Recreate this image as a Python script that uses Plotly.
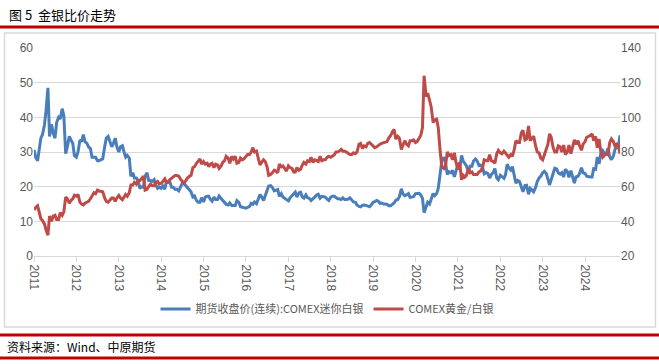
import pandas as pd
import plotly.graph_objects as go

# Semi-monthly readings (1st and 15th of each month), Jan 2011 - Oct 2024, plus last point
silver = [
    # 2011
    30.6, 28.5, 27.5, 30.8, 34.0, 35.0, 37.8, 42.0, 48.5, 34.5, 38.0, 35.5,
    34.0, 38.5, 40.0, 39.5, 42.5, 40.5, 29.5, 31.5, 34.5, 33.5, 32.5, 29.0,
    # 2012
    28.5, 30.0, 33.5, 33.0, 35.0, 33.0, 32.5, 31.5, 31.0, 28.5, 28.5, 28.5,
    27.5, 27.5, 27.8, 28.0, 31.5, 34.0, 34.5, 33.0, 31.5, 32.5, 34.0, 31.5,
    # 2013
    30.0, 31.5, 31.8, 30.0, 28.5, 29.0, 28.2, 23.0, 24.0, 22.5, 22.5, 21.8,
    19.5, 20.0, 19.8, 23.0, 24.0, 21.8, 21.8, 21.5, 22.0, 20.5, 19.5, 19.8,
    # 2014
    19.5, 20.2, 19.3, 21.5, 21.3, 21.5, 19.8, 19.8, 19.2, 19.3, 18.8, 19.8,
    21.0, 21.0, 20.4, 19.7, 19.3, 18.5, 17.0, 17.3, 16.0, 15.5, 15.5, 16.8,
    # 2015
    15.6, 17.0, 17.2, 17.2, 16.3, 15.8, 17.0, 16.3, 16.3, 17.3, 16.6, 16.0,
    15.6, 14.9, 14.7, 15.3, 14.6, 14.6, 14.6, 16.0, 15.5, 14.2, 14.1, 14.0,
    # 2016
    13.8, 14.0, 14.3, 15.2, 14.9, 15.6, 15.1, 16.3, 17.7, 17.1, 16.0, 17.4,
    18.7, 20.2, 20.3, 19.8, 18.8, 19.0, 19.2, 17.2, 18.0, 17.0, 16.6, 16.5,
    # 2017
    15.9, 16.8, 17.5, 18.0, 18.4, 17.0, 18.2, 18.4, 17.0, 16.7, 17.6, 16.8,
    16.6, 16.0, 16.7, 17.0, 17.6, 17.8, 16.7, 17.2, 17.1, 17.0, 16.4, 16.0,
    # 2018
    17.0, 17.2, 17.2, 16.7, 16.5, 16.5, 16.3, 16.8, 16.3, 16.3, 16.4, 16.8,
    16.0, 15.6, 15.5, 14.7, 14.3, 14.2, 14.6, 14.7, 14.6, 14.3, 14.2, 14.7,
    # 2019
    15.5, 15.7, 16.0, 15.8, 15.2, 15.3, 15.0, 15.0, 14.9, 14.5, 14.5, 14.9,
    15.3, 16.1, 16.3, 17.1, 19.4, 17.9, 17.4, 17.6, 18.0, 16.9, 17.0, 17.1,
    # 2020
    18.0, 18.0, 18.1, 17.6, 16.7, 12.5, 14.2, 15.5, 15.0, 16.5, 18.0, 17.4,
    18.0, 19.5, 24.5, 27.5, 28.5, 27.0, 23.5, 24.3, 24.0, 24.7, 22.8, 24.8,
    # 2021
    26.5, 25.0, 29.0, 27.4, 26.6, 26.0, 24.2, 25.9, 25.9, 27.4, 28.0, 27.4,
    26.1, 26.2, 25.6, 23.7, 24.1, 23.8, 22.5, 23.5, 24.1, 25.2, 22.5, 22.0,
    # 2022
    23.3, 23.0, 22.4, 23.5, 26.5, 25.5, 24.8, 25.8, 22.8, 21.0, 21.8, 21.5,
    19.9, 18.5, 20.3, 20.4, 17.8, 19.5, 19.0, 18.5, 19.8, 21.5, 22.5, 23.0,
    # 2023
    24.0, 24.4, 23.8, 21.8, 20.5, 22.0, 24.2, 25.3, 25.1, 24.0, 23.6, 24.0,
    22.8, 25.0, 24.4, 22.7, 24.6, 23.0, 21.0, 22.8, 23.0, 23.8, 25.5, 24.0,
    # 2024
    23.8, 23.0, 22.8, 22.8, 22.8, 25.2, 25.0, 28.5, 26.6, 29.5, 30.4, 29.6,
    29.5, 31.0, 28.6, 27.8, 28.8, 30.8, 31.3, 31.8, 34.8,
]

ratio = [
    # 2011
    46.5, 48.0, 49.0, 45.5, 41.5, 40.5, 38.5, 35.0, 32.0, 43.0, 40.0, 43.0,
    43.5, 41.0, 41.0, 45.0, 43.5, 45.5, 54.0, 53.0, 50.5, 52.0, 53.0, 55.0,
    # 2012
    54.5, 55.5, 51.0, 50.0, 49.5, 50.5, 51.0, 51.5, 53.0, 55.0, 56.5, 56.0,
    58.0, 57.5, 57.0, 57.0, 53.5, 51.5, 51.0, 52.5, 53.5, 53.5, 51.5, 53.5,
    # 2013
    55.0, 53.5, 52.5, 54.0, 55.5, 54.5, 56.5, 61.0, 61.0, 62.5, 61.5, 63.5,
    63.5, 64.5, 66.0, 58.0, 58.5, 60.0, 61.5, 60.5, 60.5, 62.5, 63.0, 61.5,
    # 2014
    62.0, 63.0, 64.5, 62.5, 62.5, 64.0, 65.0, 66.0, 66.5, 66.5, 66.0, 64.5,
    63.0, 62.0, 63.5, 65.0, 66.0, 66.5, 71.0, 71.5, 73.5, 74.5, 76.0, 73.0,
    # 2015
    74.5, 73.0, 73.5, 71.5, 73.0, 73.5, 71.0, 73.0, 72.5, 70.5, 72.0, 74.0,
    75.0, 77.5, 76.5, 73.5, 77.5, 76.0, 77.5, 73.5, 74.0, 76.5, 75.5, 76.0,
    # 2016
    77.5, 78.5, 78.5, 80.0, 82.5, 80.0, 80.5, 76.0, 72.5, 74.0, 75.5, 74.5,
    71.5, 66.5, 67.0, 68.0, 69.5, 69.0, 68.0, 73.0, 71.5, 72.0, 70.5, 69.0,
    # 2017
    72.0, 71.0, 70.5, 68.5, 68.5, 71.0, 69.5, 70.0, 72.5, 74.0, 73.0, 75.0,
    74.5, 77.0, 74.0, 75.5, 75.0, 74.5, 77.5, 75.0, 75.5, 75.5, 77.0, 77.5,
    # 2018
    77.0, 77.5, 78.5, 80.0, 80.0, 80.5, 81.5, 80.5, 80.5, 80.0, 79.0, 78.5,
    78.5, 79.5, 79.0, 80.0, 84.5, 85.0, 82.0, 83.5, 83.0, 85.0, 85.5, 84.5,
    # 2019
    83.5, 82.5, 83.0, 84.0, 84.5, 85.0, 85.5, 85.5, 86.0, 88.0, 89.5, 91.5,
    93.0, 87.5, 89.0, 88.0, 81.5, 84.0, 86.5, 84.5, 83.5, 86.5, 86.5, 87.0,
    # 2020
    85.5, 86.0, 88.0, 89.5, 94.0, 124.0, 112.0, 114.0, 110.0, 106.0, 97.0, 98.5,
    99.0, 94.0, 80.0, 71.5, 70.5, 72.0, 80.0, 78.0, 78.5, 75.5, 79.5, 74.0,
    # 2021
    70.0, 74.0, 64.0, 66.5, 65.5, 66.5, 70.5, 68.0, 68.5, 67.0, 67.0, 67.0,
    68.5, 69.0, 71.0, 75.5, 75.0, 75.0, 78.5, 75.0, 74.5, 73.5, 79.0, 81.0,
    # 2022
    79.5, 79.0, 80.5, 79.5, 78.0, 77.0, 78.5, 77.5, 81.5, 86.5, 85.5, 85.5,
    91.0, 92.5, 87.0, 87.5, 95.0, 86.5, 88.0, 89.0, 83.5, 80.0, 79.5, 76.5,
    # 2023
    75.5, 78.0, 81.0, 84.5, 90.5, 88.5, 82.5, 80.0, 80.0, 83.5, 83.0, 80.0,
    84.0, 78.5, 80.0, 84.0, 79.0, 83.0, 87.0, 84.5, 86.5, 83.5, 81.0, 84.5,
    # 2024
    86.0, 88.5, 89.0, 89.5, 90.5, 86.5, 89.0, 82.5, 87.5, 80.5, 77.0, 78.0,
    79.0, 78.5, 85.5, 87.5, 86.0, 83.5, 84.5, 83.5, 79.0,
]

dates = list(pd.date_range("2011-01-01", "2024-10-15", freq="SMS")) + [pd.Timestamp("2024-10-28")]
years = list(range(2011, 2025))
tick_dates = [f"{y}-01-01" for y in years]
tick_text = [str(y) for y in years]

name_silver = "期货收盘价(连续):COMEX迷你白银"
name_ratio = "COMEX黄金/白银"

BLUE = "#4A7EBB"
RED = "#BE4B48"
GRID = "#D9D9D9"
TXT = "#595959"

fig = go.Figure()
fig.add_trace(go.Scatter(x=dates, y=silver, name=name_silver, mode="lines",
                         line=dict(color=BLUE, width=3), yaxis="y"))
fig.add_trace(go.Scatter(x=dates, y=ratio, name=name_ratio, mode="lines",
                         line=dict(color=RED, width=3), yaxis="y2"))

# pixel -> paper helpers (plot area: x 34..620, y 48..256)
L, R, T, B = 34, 620, 48, 256
def px(x):
    return (x - L) / (R - L)
def py(y):
    return (B - y) / (B - T)

shapes = [
    dict(type="line", xref="paper", yref="paper", x0=px(0), x1=px(659), y0=py(27), y1=py(27),
         line=dict(color="#C00000", width=3)),
    dict(type="rect", xref="paper", yref="paper", x0=px(4.5), x1=px(655.5), y0=py(327), y1=py(33),
         line=dict(color=GRID, width=1.5)),
    dict(type="line", xref="paper", yref="paper", x0=px(0), x1=px(659), y0=py(335), y1=py(335),
         line=dict(color="#C00000", width=3)),
    dict(type="line", xref="paper", yref="paper", x0=px(0), x1=px(659), y0=py(358), y1=py(358),
         line=dict(color="#C00000", width=3)),
]

annotations = [
    dict(text="图 5  金银比价走势", xref="paper", yref="paper", x=px(7), y=py(15),
         xanchor="left", yanchor="middle", showarrow=False,
         font=dict(family="Noto Sans CJK SC", size=13, color="#000000")),
    dict(text="资料来源：Wind、中原期货", xref="paper", yref="paper", x=px(5), y=py(346),
         xanchor="left", yanchor="middle", showarrow=False,
         font=dict(family="Noto Sans CJK SC", size=12, color="#000000")),
]

fig.update_layout(
    width=659, height=364,
    margin=dict(l=L, r=659 - R, t=T, b=364 - B),
    paper_bgcolor="white", plot_bgcolor="white",
    showlegend=True,
    legend=dict(orientation="h", x=0.5, xanchor="center", y=py(309), yanchor="middle",
                font=dict(family="Noto Sans CJK SC", size=11, color=TXT),
                itemwidth=30, tracegroupgap=0),
    xaxis=dict(type="date", range=["2011-01-01", "2024-10-28"],
               tickvals=tick_dates, ticktext=tick_text, tickangle=90,
               showgrid=False, showline=True, linecolor=GRID, linewidth=1,
               ticks="outside", ticklen=5, tickcolor=GRID,
               tickfont=dict(family="Liberation Sans", size=12, color=TXT)),
    yaxis=dict(range=[0, 60], dtick=10, showgrid=True, gridcolor=GRID, gridwidth=1,
               zeroline=False, showline=False, ticks="",
               tickfont=dict(family="Liberation Sans", size=12, color=TXT)),
    yaxis2=dict(range=[20, 140], dtick=20, overlaying="y", side="right",
                showgrid=False, zeroline=False, showline=False, ticks="",
                tickfont=dict(family="Liberation Sans", size=12, color=TXT)),
    shapes=shapes,
    annotations=annotations,
)

fig.write_html("out.html", config={"displayModeBar": False},
               post_script="document.body.style.margin='0';document.body.style.overflow='hidden';")
